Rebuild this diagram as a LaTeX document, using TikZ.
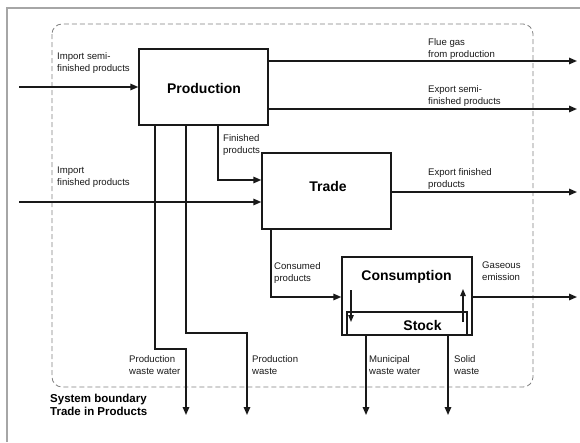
\documentclass[tikz,border=0pt]{standalone}
\usepackage{fontspec}
\setmainfont{Liberation Sans}
\usetikzlibrary{arrows.meta}
\begin{document}
\begin{tikzpicture}[x=1pt,y=-1pt,
  flow/.style={line width=1.5pt,draw=black!90,-{Triangle[length=8pt,width=6.5pt]}},
  smallflow/.style={line width=1.2pt,draw=black!90,-{Triangle[length=7pt,width=5.5pt]}},
  procbox/.style={draw=black!90,line width=1.4pt,minimum width=#1,inner sep=0pt},
  lbl/.style={anchor=north west,align=left,inner sep=0pt,font=\fontsize{9.6}{12}\selectfont,text=black!90},
  title/.style={inner sep=0pt,font=\fontsize{14}{16}\selectfont\bfseries,text=black}]
\useasboundingbox (0,0) rectangle (580,442);
% frame
\draw[gray!70,line width=1.2pt] (7,442) -- (7,8) -- (580,8);
% system boundary
\draw[gray,dashed,dash pattern=on 5pt off 3pt,line width=0.8pt,rounded corners=10pt] (52,24) rectangle (533,387);
% boxes
\node[procbox=129pt,minimum height=76pt] (prod) at (203.5,87) {};
\node[procbox=129pt,minimum height=76pt] (trade) at (326.5,191) {};
\node[procbox=130pt,minimum height=78pt] (cons) at (407,296) {};
\node[procbox=120pt,minimum height=23pt] (stock) at (407,323.5) {};
\node[title] (prodlbl) at (204,88) {Production};
\node[title] (tradelbl) at (328,186) {Trade};
\node[title] (conslbl) at (406.5,277) {Consumption};
\node[title] (stocklbl) at (422.5,325) {Stock};
% free ends
\coordinate (inA) at (19,87);
\coordinate (inB) at (19,202);
\coordinate (outA) at (577,61);
\coordinate (outB) at (577,109);
\coordinate (outC) at (577,192);
\coordinate (outD) at (577,297);
\coordinate (dnA) at (186,415);
\coordinate (dnB) at (247,415);
\coordinate (dnC) at (366,415);
\coordinate (dnD) at (448,415);
% flows
\draw[flow] (inA) -- (prod.west |- inA);
\draw[flow] (prod.east |- outA) -- (outA);
\draw[flow] (prod.east |- outB) -- (outB);
\draw[flow] (inB) -- (trade.west |- inB);
\draw[flow] (trade.east |- outC) -- (outC);
\draw[flow] (prod.south -| 218,0) -- (218,180) -- (trade.west |- 0,180);
\draw[flow] (prod.south -| 155,0) -- (155,349) -- (186,349) -- (dnA);
\draw[flow] (prod.south -| 186,0) -- (186,333) -- (247,333) -- (dnB);
\draw[flow] (trade.south -| 271,0) -- (271,297) -- (cons.west |- 0,297);
\draw[flow] (cons.east |- outD) -- (outD);
\draw[flow] (stock.south -| dnC) -- (dnC);
\draw[flow] (stock.south -| dnD) -- (dnD);
% internal stock flows
\coordinate (inS) at (351,290);
\coordinate (outS) at (463,289);
\draw[smallflow] (inS) -- (351,322);
\draw[smallflow] (463,322) -- (outS);
% labels
\node[lbl] (l1) at (57,52) {Import semi-\\finished products};
\node[lbl] (l2) at (57,167) {Import\\finished products};
\node[lbl] (l3) at (428,38) {Flue gas\\from production};
\node[lbl] (l4) at (428,85) {Export semi-\\finished products};
\node[lbl] (l5) at (428,168) {Export finished\\products};
\node[lbl] (l6) at (223,134) {Finished\\products};
\node[lbl] (l7) at (274,262) {Consumed\\products};
\node[lbl] (l8) at (482,262) {Gaseous\\emission};
\node[lbl] (l9) at (129,355) {Production\\waste water};
\node[lbl] (l10) at (252,355) {Production\\waste};
\node[lbl] (l11) at (369,355) {Municipal\\waste water};
\node[lbl] (l12) at (454,355) {Solid\\waste};
\node[anchor=north west,align=left,inner sep=0pt,font=\fontsize{11.5}{12.5}\selectfont\bfseries,text=black] (sys) at (50,394) {System boundary\\Trade in Products};
\end{tikzpicture}
\end{document}
